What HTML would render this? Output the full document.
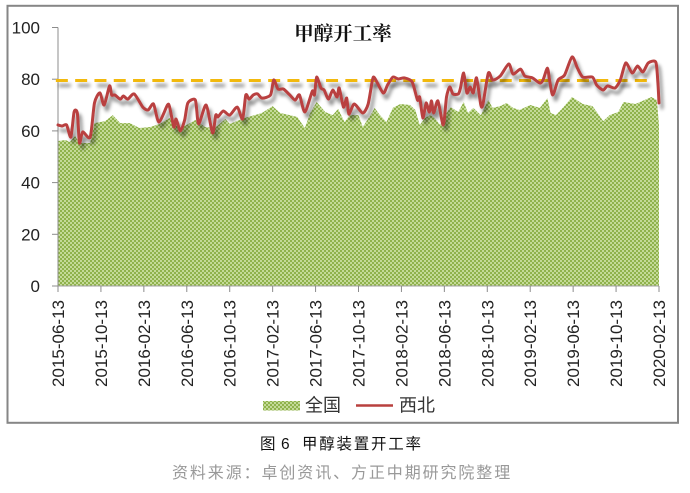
<!DOCTYPE html>
<html lang="zh">
<head>
<meta charset="utf-8">
<title>甲醇开工率</title>
<style>
html,body{margin:0;padding:0;background:#fff;}
body{width:690px;height:493px;overflow:hidden;position:relative;}
svg{position:absolute;left:0;top:0;display:block;}
text{font-family:"Liberation Sans","Noto Sans CJK SC",sans-serif;}
</style>
</head>
<body>
<svg id="chart" width="690" height="493" viewBox="0 0 690 493">
  <defs>
    <pattern id="dots" width="4" height="4" patternUnits="userSpaceOnUse">
      <rect width="4" height="4" fill="#8fb24c" shape-rendering="crispEdges"/>
      <rect x="0" y="0" width="2" height="2" fill="#c4da98" shape-rendering="crispEdges"/>
      <rect x="2" y="2" width="2" height="2" fill="#c4da98" shape-rendering="crispEdges"/>
    </pattern>
    <filter id="shadow" filterUnits="userSpaceOnUse" x="0" y="0" width="690" height="493">
      <feGaussianBlur in="SourceAlpha" stdDeviation="1.8" result="b"/>
      <feOffset in="b" dx="3" dy="5" result="o"/>
      <feFlood flood-color="#000" flood-opacity="0.45"/>
      <feComposite in2="o" operator="in" result="s"/>
      <feMerge><feMergeNode in="s"/><feMergeNode in="SourceGraphic"/></feMerge>
    </filter>
  </defs>
  <rect x="7.5" y="5.8" width="670.5" height="417" fill="#fff" stroke="#868686" stroke-width="2"/>
  <text x="343" y="40" font-size="19.5" font-weight="700" text-anchor="middle" fill="#111" style="font-family:'Noto Serif CJK SC','Liberation Serif',serif">甲醇开工率</text>
  <g id="plot"></g>
  <rect x="263" y="401" width="37" height="9.5" fill="url(#dots)"/>
  <text x="305" y="411.5" font-size="18" fill="#333">全国</text>
  <line x1="356" y1="405.5" x2="393" y2="405.5" stroke="#b9403f" stroke-width="2.5"/>
  <text x="399" y="411.5" font-size="18" fill="#333">西北</text>
  <text y="449" font-size="15.5" fill="#111" style="letter-spacing:1.75px"><tspan x="260">图</tspan><tspan x="281">6</tspan><tspan x="302">甲醇装置开工率</tspan></text>
  <text x="172" y="478" font-size="16" fill="#999" style="letter-spacing:1.9px">资料来源：卓创资讯、方正中期研究院整理</text>
</svg>
<script>
const xTickLabels = ["2015-06-13","2015-10-13","2016-02-13","2016-06-13","2016-10-13","2017-02-13","2017-06-13","2017-10-13","2018-02-13","2018-06-13","2018-10-13","2019-02-13","2019-06-13","2019-10-13","2020-02-13"];
const yTickLabels = [0,20,40,60,80,100];

const nationalMonths = [0,0.7,1.1,1.6,2,3,3.4,4.4,5.1,5.8,6.7,7.6,8.6,9.5,10.4,11.4,12.3,12.8,13.7,14.6,15.6,16,17.4,19,20,20.7,21.6,22.3,23,23.5,24.1,24.9,25.6,26.1,26.7,27.2,28,28.4,29.3,29.5,30,30.6,31.2,31.9,32.8,33.3,33.7,34.2,34.7,35.1,35.6,36.2,36.6,37.3,37.8,38.2,38.7,39,39.4,40.1,40.5,41.2,41.8,42.4,43,44,44.9,45.6,45.9,46.4,47.1,47.9,48.9,49.8,50.2,50.8,51.4,52.2,52.7,53.8,55.3,55.8,56];
const nationalValues = [56.1,56.5,55.7,58,55.3,55.3,63,63.8,66.1,63,63,61.1,61.5,62.7,65,61.1,63,64.2,61.5,61.1,64.6,62.7,65,66.9,69.6,66.9,66.1,65.4,61.1,66.9,71.2,67.3,66.1,68.5,63.4,66.1,66.1,61.5,67.3,68.9,66.1,63.4,68.9,70.4,70,68.1,62.3,65,66.1,65,62.3,66.9,69.2,67.3,71.2,66.9,68.9,67.7,66.1,71.9,68.9,69.6,70.8,68.9,68.1,70,68.9,72.7,66.9,66.1,69.2,73.1,70.4,69.6,67.3,63.8,66.1,67.3,71.2,70.4,73.1,71.9,62.3];

const northwestMonths = [0,0.4,0.8,1.2,1.5,1.8,2,2.3,3,3.4,3.9,4.3,4.8,5,5.3,5.8,6.1,6.5,7.1,7.9,8.4,8.9,9.4,10.2,10.4,10.8,11,11.4,11.8,12.1,12.8,13.1,13.8,14.4,14.7,14.9,15.4,16,16.7,17.2,17.5,17.8,18.2,18.6,19,19.8,20.1,20.5,21,21.6,22.1,22.5,23,23.7,23.9,24.1,24.5,24.8,25.2,25.6,26,26.2,26.6,26.9,27.1,27.6,28.4,28.9,29.3,29.5,30.3,30.7,31.2,31.7,32.3,33,33.5,33.7,34,34.3,34.6,34.8,35,35.4,35.9,36.2,36.5,36.8,37.3,37.5,37.8,38.1,38.4,38.7,39,39.4,39.6,40.1,40.5,41.2,42,42.4,43.1,43.5,44.2,44.9,45.2,45.6,45.8,46.1,46.6,47.2,47.9,48.4,48.9,49.8,50.2,50.8,51.2,51.9,52.4,52.9,53.5,54,54.5,55,55.7,55.9,56];
const northwestValues = [62.3,61.9,62.3,57.6,67.3,66.9,55.3,59.6,57.6,70.8,74.7,70,77.4,73.9,73.9,72.3,73.5,72.3,74.3,69.2,68.1,70.4,63.4,70,69.2,61.5,64.6,60,64.2,70.8,71.9,62.7,70,59.2,66.1,65.4,67.7,66.1,69.2,64.6,73.9,72.3,73.9,74.3,72.7,73.9,79.7,76.2,76.2,73.9,71.9,73.9,67.3,75.4,73.9,80.8,76.6,75.8,72.3,75.8,73.1,76.6,69.2,72.7,66.5,70.4,66.9,70.4,79.7,80.5,74.7,77.7,80.8,80.1,80.5,78.9,71.9,73.1,65,70.8,67.3,71.6,66.9,71.6,62.3,73.1,77,74.3,74.3,76.6,82.4,74.7,77,74.7,80.5,70,70.4,82.4,79.7,81.2,85.9,82,83.9,81.2,80.5,78.5,79.7,84.3,79.7,73.9,79.7,81.6,88.6,84.3,80.8,80.8,77.7,75.8,77.4,76.6,79.7,86.3,82.4,85.1,82.8,86.3,86.6,78.5,70.8];

const referenceMonths = [-0.2,55.3];
const referenceValues = [79.5,79.5];

const NS = "http://www.w3.org/2000/svg";
const plot = document.getElementById("plot");
const left = 58, right = 659, base = 286, top100 = 27.5, monthSpan = 56, yMax = 100;
function xScale(m){ return left + (right - left) * m / monthSpan; }
function yScale(v){ return base - (base - top100) * v / yMax; }
function make(tag, attrs){
  const el = document.createElementNS(NS, tag);
  Object.keys(attrs).forEach(function(k){ el.setAttribute(k, attrs[k]); });
  return el;
}
function smoothPath(xs, ys){
  let d = "M" + xScale(xs[0]).toFixed(2) + " " + yScale(ys[0]).toFixed(2);
  for (let i = 0; i < xs.length - 1; i++) {
    const a = Math.max(i - 1, 0), b = i, c = i + 1, e = Math.min(i + 2, xs.length - 1);
    const x1 = xScale(xs[b]), y1 = yScale(ys[b]), x2 = xScale(xs[c]), y2 = yScale(ys[c]);
    const k = 0.12;
    d += " C" + (x1 + (x2 - xScale(xs[a])) * k).toFixed(2) + " " + (y1 + (y2 - yScale(ys[a])) * k).toFixed(2) +
         " " + (x2 - (xScale(xs[e]) - x1) * k).toFixed(2) + " " + (y2 - (yScale(ys[e]) - y1) * k).toFixed(2) +
         " " + x2.toFixed(2) + " " + y2.toFixed(2);
  }
  return d;
}

let areaD = "M" + xScale(nationalMonths[0]).toFixed(2) + " " + yScale(0).toFixed(2);
nationalMonths.forEach(function(m, i){
  areaD += " L" + xScale(m).toFixed(2) + " " + yScale(nationalValues[i]).toFixed(2);
});
areaD += " L" + xScale(nationalMonths[nationalMonths.length - 1]).toFixed(2) + " " + yScale(0).toFixed(2) + " Z";
const area = make("path", {d: areaD, fill: "url(#dots)"});


plot.appendChild(area);

const yAxis = make("line", {x1: left, y1: yScale(yMax), x2: left, y2: yScale(0), stroke: "#8c8c8c", "stroke-width": 1});


plot.appendChild(yAxis);

const xAxis = make("line", {x1: left, y1: yScale(0), x2: right, y2: yScale(0), stroke: "#a0a0a0", "stroke-width": 1});


plot.appendChild(xAxis);

yTickLabels.forEach(function(v){
  const t = make("line", {x1: left - 6, y1: yScale(v), x2: left, y2: yScale(v), stroke: "#8c8c8c", "stroke-width": 1});
  
  
  plot.appendChild(t);
  const l = make("text", {x: 40, y: yScale(v) + 6, "text-anchor": "end", "font-size": 17, fill: "#222"});
  
  
  l.textContent = v;
  plot.appendChild(l);
});

xTickLabels.forEach(function(label, i){
  const x = xScale(i * 4);
  const t = make("line", {x1: x, y1: base, x2: x, y2: base + 6, stroke: "#8c8c8c", "stroke-width": 1});
  
  
  plot.appendChild(t);
  const l = make("text", {x: 0, y: 0, "text-anchor": "end", "font-size": 17, fill: "#222", transform: "translate(" + (x + 6) + " 300) rotate(-90)"});
  
  
  l.textContent = label;
  plot.appendChild(l);
});

const reference = make("line", {x1: xScale(referenceMonths[0]), y1: yScale(referenceValues[0]), x2: xScale(referenceMonths[1]), y2: yScale(referenceValues[1]), stroke: "#f2b90f", "stroke-width": 3, "stroke-dasharray": "12 7.3", filter: "url(#shadow)"});


plot.appendChild(reference);

const line = make("path", {d: smoothPath(northwestMonths, northwestValues), fill: "none", stroke: "#b9403f", "stroke-width": 3, "stroke-linejoin": "round", "stroke-linecap": "round", filter: "url(#shadow)"});


plot.appendChild(line);
</script>
</body>
</html>
